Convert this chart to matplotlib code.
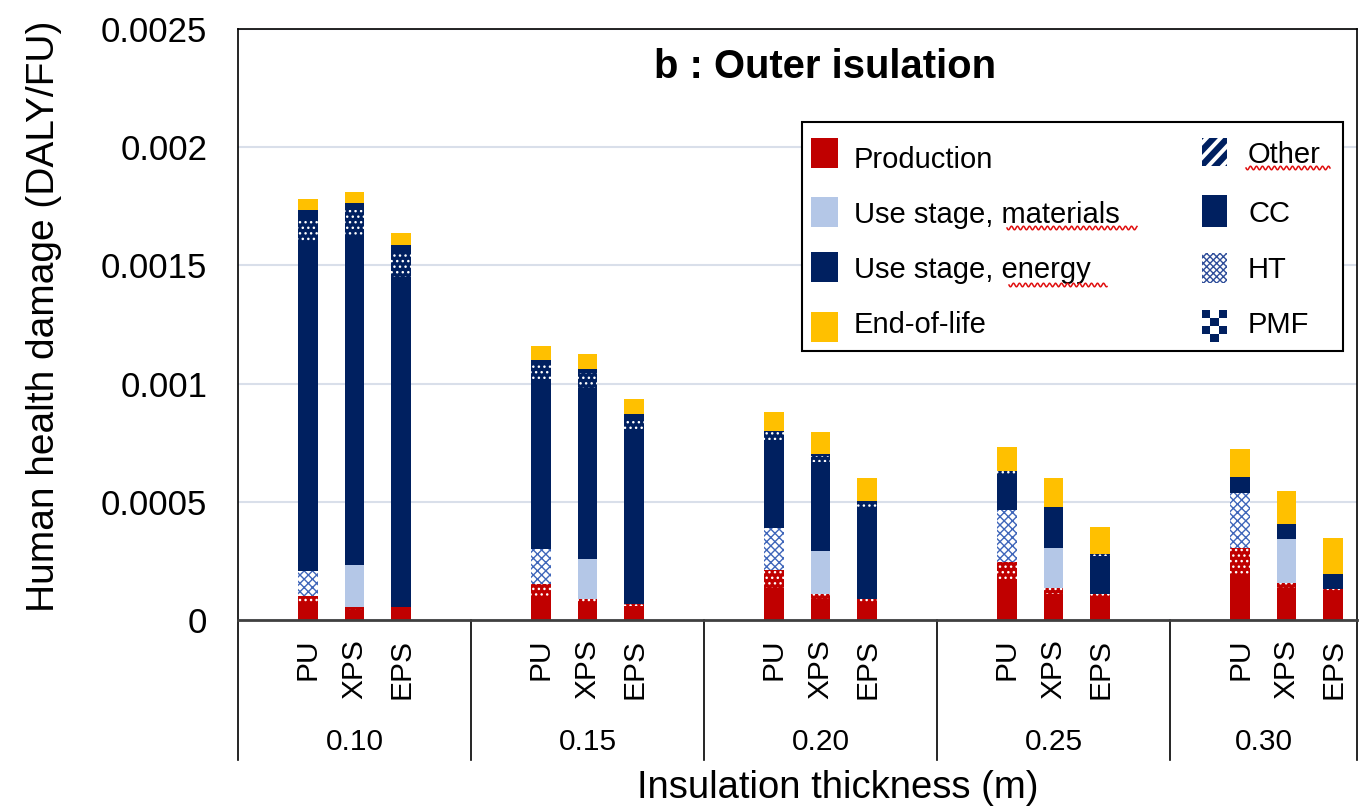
import numpy as np
import matplotlib
matplotlib.use("Agg")
import matplotlib.pyplot as plt
from matplotlib.patches import Rectangle
from matplotlib.lines import Line2D
import matplotlib.transforms as mtransforms

plt.rcParams['font.family'] = ['Liberation Sans', 'DejaVu Sans']
plt.rcParams['hatch.linewidth'] = 1.0

# ---------------- data (DALY per functional unit) ----------------
thickness = ["0.10", "0.15", "0.20", "0.25", "0.30"]
materials = ["PU", "XPS", "EPS"]

# one value per bar, ordered thickness-major: PU, XPS, EPS for each thickness
prod_cc  = [68e-6, 42e-6, 47e-6,   93e-6, 72e-6, 59e-6,   135e-6, 89e-6, 76e-6,   161e-6, 110e-6, 93e-6,   195e-6, 135e-6, 114e-6]
prod_pmf = [34e-6, 13e-6, 8e-6,    59e-6, 17e-6, 8e-6,    76e-6, 21e-6, 13e-6,    85e-6, 25e-6, 17e-6,     110e-6, 21e-6, 17e-6]
mat_cc   = [0, 178e-6, 0,          0, 169e-6, 0,          0, 182e-6, 0,           0, 169e-6, 0,            0, 186e-6, 0]
mat_ht   = [106e-6, 0, 0,          148e-6, 0, 0,          178e-6, 0, 0,           220e-6, 0, 0,            233e-6, 0, 0]
en_cc    = [1392e-6, 1387e-6, 1396e-6, 719e-6, 723e-6, 732e-6, 372e-6, 376e-6, 381e-6, 152e-6, 165e-6, 161e-6, 68e-6, 63e-6, 63e-6]
en_pmf   = [102e-6, 114e-6, 97e-6,  63e-6, 63e-6, 55e-6,   34e-6, 25e-6, 30e-6,    13e-6, 8e-6, 8e-6,       0, 0, 0]
en_other = [34e-6, 30e-6, 38e-6,    17e-6, 17e-6, 17e-6,   4e-6, 8e-6, 2e-6,       0, 0, 0,                 0, 0, 0]
eol      = [45e-6, 47e-6, 51e-6,    59e-6, 63e-6, 63e-6,   80e-6, 93e-6, 97e-6,    102e-6, 123e-6, 114e-6,  118e-6, 140e-6, 152e-6]

ytick_values = [0, 0.0005, 0.001, 0.0015, 0.002, 0.0025]
ytick_labels = ["0", "0.0005", "0.001", "0.0015", "0.002", "0.0025"]

stage_labels = ["Production", "Use stage, materials", "Use stage, energy", "End-of-life"]
category_labels = ["Other", "CC", "HT", "PMF"]

# ---------------- style ----------------
RED = "#C00000"
LBLUE = "#B4C7E7"
NAVY = "#002060"
YELLOW = "#FFC000"
HTBLUE = "#3F66BA"
GRID = "#D9DFEA"

W, H = 1367, 807
fig = plt.figure(figsize=(W / 100, H / 100), dpi=100)


def fx(px):
    return px / W


def fy(py):
    return 1 - py / H


ax = fig.add_axes([fx(238), fy(620), fx(1357) - fx(238), (620 - 29) / H])

# bar positions: groups of three, five units apart
n_groups = len(thickness)
xpos = np.array([5 * g + (m - 1) for g in range(n_groups) for m in range(len(materials))], dtype=float)
bar_w = 0.42

segments = [
    (prod_cc,  dict(facecolor=RED, edgecolor=RED)),
    (prod_pmf, dict(facecolor=RED, edgecolor="white", hatch="...")),
    (mat_cc,   dict(facecolor=LBLUE, edgecolor=LBLUE)),
    (mat_ht,   dict(facecolor="white", edgecolor=HTBLUE, hatch="xxxx")),
    (en_cc,    dict(facecolor=NAVY, edgecolor=NAVY)),
    (en_pmf,   dict(facecolor=NAVY, edgecolor="white", hatch="...")),
    (en_other, dict(facecolor=NAVY, edgecolor=NAVY)),
    (eol,      dict(facecolor=YELLOW, edgecolor=YELLOW)),
]

bottom = np.zeros(len(xpos))
for vals, style in segments:
    vals = np.asarray(vals, dtype=float)
    ax.bar(xpos, vals, bar_w, bottom=bottom, linewidth=0, zorder=2, **style)
    bottom += vals

ax.set_xlim(-2.5, 21.51)
ax.set_ylim(0, 0.0025)
ax.set_yticks(ytick_values)
ax.set_yticklabels(ytick_labels, fontsize=25)
ax.tick_params(axis="y", length=0, pad=22)
ax.set_xticks([])
ax.yaxis.grid(True, color=GRID, linewidth=1.5)
ax.set_axisbelow(True)

for side in ("left", "top", "right"):
    ax.spines[side].set_color("black")
    ax.spines[side].set_linewidth(1.2)
ax.spines["bottom"].set_color("#404040")
ax.spines["bottom"].set_linewidth(2)

# ---------------- two-level category axis ----------------
blend = mtransforms.blended_transform_factory(ax.transData, fig.transFigure)
xr = ax.get_xlim()[1]
seps = [5 * g - 2.5 for g in range(n_groups)] + [xr]
for s in seps:
    ax.plot([s, s], [fy(620), fy(760)], color="black", lw=1.2,
            transform=blend, clip_on=False)

for i, x in enumerate(xpos):
    ax.text(x, fy(639), materials[i % 3], rotation=90, ha="center", va="top",
            fontsize=21.5, transform=blend)

for g, lab in enumerate(thickness):
    left = 5 * g - 2.5
    right = min(5 * g + 2.5, xr)
    ax.text((left + right) / 2, fy(750), lab, ha="center", va="baseline",
            fontsize=21.5, transform=blend)

# ---------------- titles ----------------
fig.text(fx(825), fy(78), "b : Outer isulation", fontsize=28.8, fontweight="bold",
         ha="center", va="baseline")
fig.text(fx(44), fy(316), "Human health damage (DALY/FU)", rotation=90,
         fontsize=28, ha="center", va="center")
fig.text(fx(838), fy(798), "Insulation thickness (m)", fontsize=27.5,
         ha="center", va="baseline")

# ---------------- legend ----------------
def frect(x0, y0, x1, y1, **kw):
    r = Rectangle((fx(x0), fy(y1)), fx(x1) - fx(x0), (y1 - y0) / H,
                  transform=fig.transFigure, **kw)
    fig.add_artist(r)
    return r


frect(802, 122, 1343, 351, facecolor="white", edgecolor="black", lw=1.5, zorder=5)

stage_colors = [RED, LBLUE, NAVY, YELLOW]
left_rows = [153, 212, 267, 327]
left_base = [168, 223, 278, 333]
for lab, col, yc, yb in zip(stage_labels, stage_colors, left_rows, left_base):
    frect(811, yc - 15, 838, yc + 15, facecolor=col, edgecolor="none", zorder=6)
    fig.text(fx(854), fy(yb), lab, fontsize=21, ha="left", va="baseline", zorder=7)

right_rows = [152, 211, 268, 326]
right_base = [163, 222, 278, 333]
ix0, ix1 = 1202, 1227

# Other: diagonal stripes
yc = right_rows[0]
clip = frect(ix0, yc - 14, ix1, yc + 14, facecolor="white", edgecolor="none", zorder=6)
for k in range(-2, 3):
    off = k * 14
    ln = Line2D([fx(ix0 - 10 + off), fx(ix1 + 10 + off)], [fy(yc + 24), fy(yc - 24)],
                transform=fig.transFigure, color=NAVY, lw=4.5, zorder=6.5)
    ln.set_clip_path(clip)
    fig.add_artist(ln)

# CC: solid
yc = right_rows[1]
frect(ix0, yc - 16, ix1, yc + 16, facecolor=NAVY, edgecolor="none", zorder=6)

# HT: lattice
yc = right_rows[2]
frect(ix0, yc - 15, ix1, yc + 15, facecolor="white", edgecolor="#2F4E9A",
      hatch="xxxxx", lw=0, zorder=6)

# PMF: checkerboard
yc = right_rows[3]
ncol, nrow = 3, 4
cw = (ix1 - ix0) / ncol
ch = 32 / nrow
for r in range(nrow):
    for c in range(ncol):
        if (r + c) % 2 == 0:
            frect(ix0 + c * cw, yc - 16 + r * ch, ix0 + (c + 1) * cw, yc - 16 + (r + 1) * ch,
                  facecolor=NAVY, edgecolor="none", zorder=6)

for lab, yb in zip(category_labels, right_base):
    fig.text(fx(1248), fy(yb), lab, fontsize=21, ha="left", va="baseline", zorder=7)

# spell-check squiggles under some legend words
def squiggle(x0, x1, y):
    xs = np.linspace(x0, x1, int((x1 - x0) * 2))
    ys = y + 1.8 * np.sin((xs - x0) * 2 * np.pi / 6.0)
    fig.add_artist(Line2D(fx(xs), fy(ys), transform=fig.transFigure,
                          color="#E01010", lw=1.1, zorder=8))


squiggle(1007, 1137, 228)
squiggle(1009, 1107, 285)
squiggle(1246, 1330, 168)

fig.savefig("out.png", dpi=100)
